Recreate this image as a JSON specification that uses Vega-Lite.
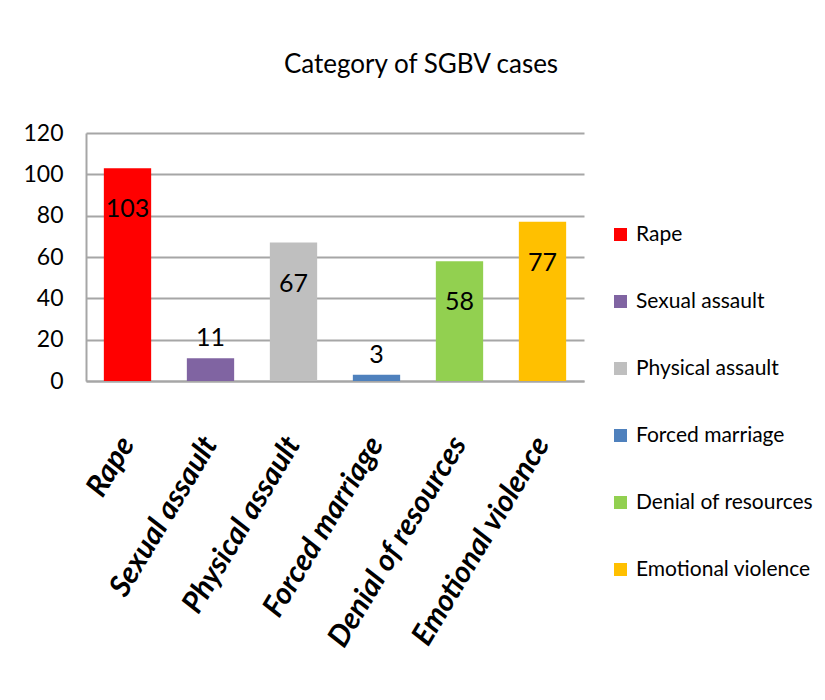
{
  "$schema": "https://vega.github.io/schema/vega-lite/v6.json",
  "width": 498,
  "height": 248,
  "autosize": {"type": "none"},
  "padding": {"left": 86, "top": 133, "right": 241, "bottom": 319},
  "background": "white",
  "config": {
    "view": {"stroke": null},
    "font": "Lato, sans-serif"
  },
  "title": {
    "text": "Category of SGBV cases",
    "fontSize": 26,
    "fontWeight": "normal",
    "font": "Lato, sans-serif",
    "color": "black",
    "anchor": "middle",
    "dx": 86,
    "offset": 44
  },
  "data": {
    "values": [
      {"category": "Rape", "cases": 103},
      {"category": "Sexual assault", "cases": 11},
      {"category": "Physical assault", "cases": 67},
      {"category": "Forced marriage", "cases": 3},
      {"category": "Denial of resources", "cases": 58},
      {"category": "Emotional violence", "cases": 77}
    ]
  },
  "encoding": {
    "x": {
      "field": "category",
      "type": "nominal",
      "sort": null,
      "scale": {"paddingInner": 0.43, "paddingOuter": 0.215},
      "axis": {
        "title": null,
        "labelAngle": -59,
        "labelAlign": "right",
        "labelBaseline": "middle",
        "labelFontSize": 30,
        "labelFontWeight": "bold",
        "labelFontStyle": "italic",
        "labelFont": "Lato, sans-serif",
        "labelColor": "black",
        "labelPadding": 58,
        "ticks": false,
        "domainColor": "#a6a6a6",
        "domainWidth": 2,
        "labelLimit": 400
      }
    },
    "y": {
      "field": "cases",
      "type": "quantitative",
      "scale": {"domain": [0, 120]},
      "axis": {
        "title": null,
        "values": [0, 20, 40, 60, 80, 100, 120],
        "labelFontSize": 23,
        "labelColor": "black",
        "labelPadding": 23,
        "ticks": false,
        "domainColor": "#a6a6a6",
        "domainWidth": 2,
        "gridColor": "#a6a6a6",
        "gridWidth": 2
      }
    }
  },
  "layer": [
    {
      "mark": {"type": "bar"},
      "encoding": {
        "color": {
          "field": "category",
          "type": "nominal",
          "sort": null,
          "scale": {
            "domain": ["Rape", "Sexual assault", "Physical assault", "Forced marriage", "Denial of resources", "Emotional violence"],
            "range": ["#ff0000", "#8064a2", "#bfbfbf", "#4f81bd", "#92d050", "#ffc000"]
          },
          "legend": {
            "title": null,
            "orient": "none",
            "legendX": 524,
            "legendY": 91,
            "symbolType": "square",
            "symbolSize": 169,
            "symbolStrokeWidth": 0,
            "labelFontSize": 21,
            "labelColor": "black",
            "labelOffset": 5,
            "rowPadding": 45,
            "labelLimit": 300
          }
        }
      }
    },
    {
      "transform": [{"filter": "datum.cases >= 20"}],
      "mark": {"type": "text", "baseline": "middle", "dy": 41, "fontSize": 25, "color": "black"},
      "encoding": {"text": {"field": "cases", "type": "quantitative"}}
    },
    {
      "transform": [{"filter": "datum.cases < 20"}],
      "mark": {"type": "text", "baseline": "middle", "dy": -20, "fontSize": 25, "color": "black"},
      "encoding": {"text": {"field": "cases", "type": "quantitative"}}
    }
  ]
}
